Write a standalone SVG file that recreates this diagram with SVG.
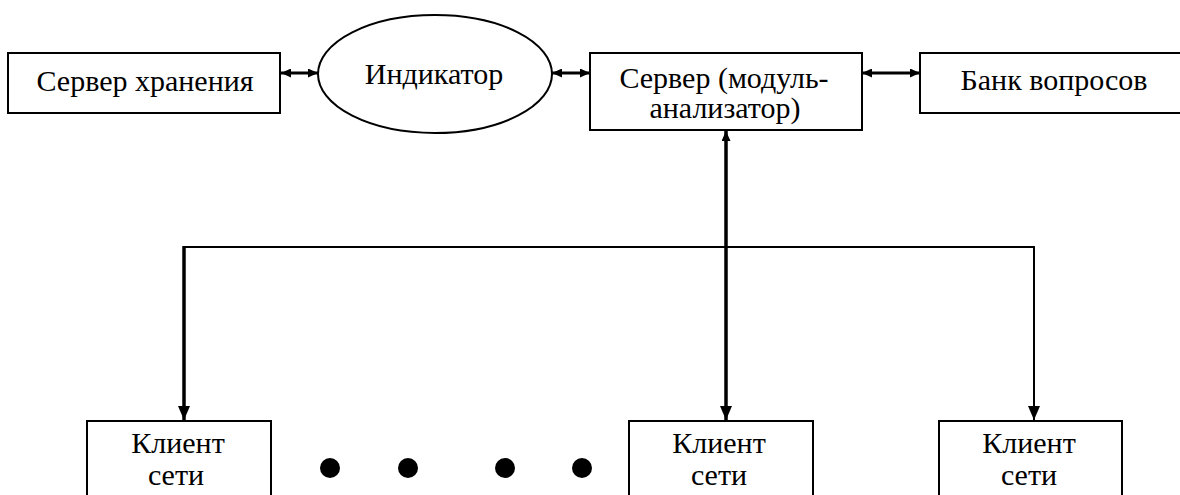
<svg xmlns="http://www.w3.org/2000/svg" width="1180" height="495" viewBox="0 0 1180 495">
  <style>
    .box { fill: #ffffff; stroke: #000000; stroke-width: 2; }
    .lbl { font-family: "Liberation Serif", "Times New Roman", serif; font-size: 30px; fill: #000000; text-anchor: middle; }
    .wire { fill: none; stroke: #000000; }
    .dot { fill: #000000; }
  </style>
  <defs>
    <marker id="headSmall" viewBox="0 0 10 10" refX="10" refY="5" markerUnits="userSpaceOnUse" markerWidth="10" markerHeight="9" orient="auto-start-reverse" preserveAspectRatio="none">
      <path d="M0,0 L10,5 L0,10 z" fill="#000000"/>
    </marker>
    <marker id="headBig" viewBox="0 0 10 10" refX="10" refY="5" markerUnits="userSpaceOnUse" markerWidth="14" markerHeight="12" orient="auto-start-reverse" preserveAspectRatio="none">
      <path d="M0,0 L10,5 L0,10 z" fill="#000000"/>
    </marker>
  </defs>

  <rect width="1180" height="495" fill="#ffffff"/>

  <!-- connectors -->
  <g id="connectors">
    <line class="wire" x1="281" y1="73" x2="318" y2="73" stroke-width="3" marker-start="url(#headSmall)" marker-end="url(#headSmall)"/>
    <line class="wire" x1="552" y1="73" x2="590" y2="73" stroke-width="3" marker-start="url(#headSmall)" marker-end="url(#headSmall)"/>
    <line class="wire" x1="862" y1="73" x2="920" y2="73" stroke-width="3" marker-start="url(#headSmall)" marker-end="url(#headSmall)"/>
    <!-- trunk between the server and the middle client -->
    <line class="wire" x1="726" y1="131" x2="726" y2="420" stroke-width="3.5" marker-start="url(#headSmall)" marker-end="url(#headBig)"/>
    <!-- distribution bus -->
    <line class="wire" x1="183" y1="247" x2="1035" y2="247" stroke-width="2"/>
    <line class="wire" x1="184" y1="246" x2="184" y2="420" stroke-width="3.5" marker-end="url(#headBig)"/>
    <line class="wire" x1="1034" y1="246" x2="1034" y2="420" stroke-width="2" marker-end="url(#headBig)"/>
  </g>

  <g id="storage-server">
    <rect class="box" x="8" y="53" width="272" height="60"/>
    <text class="lbl" x="145" y="91">Сервер хранения</text>
  </g>

  <g id="indicator">
    <ellipse cx="435" cy="74" rx="117" ry="59" fill="#ffffff" stroke="#000000" stroke-width="2"/>
    <text class="lbl" x="434" y="84">Индикатор</text>
  </g>

  <g id="analyzer-server">
    <rect class="box" x="590" y="53" width="272" height="77"/>
    <text class="lbl" x="724" y="88">Сервер (модуль-</text>
    <text class="lbl" x="725" y="118">анализатор)</text>
  </g>

  <g id="question-bank">
    <rect class="box" x="920" y="53" width="270" height="60"/>
    <text class="lbl" x="1054" y="90">Банк вопросов</text>
  </g>

  <g id="client-1">
    <rect class="box" x="87" y="421" width="184" height="90"/>
    <text class="lbl" x="178" y="453">Клиент</text>
    <text class="lbl" x="176" y="485">сети</text>
  </g>

  <g id="client-2">
    <rect class="box" x="629" y="421" width="184" height="90"/>
    <text class="lbl" x="719" y="453">Клиент</text>
    <text class="lbl" x="719" y="485">сети</text>
  </g>

  <g id="client-3">
    <rect class="box" x="939" y="421" width="183" height="90"/>
    <text class="lbl" x="1029" y="453">Клиент</text>
    <text class="lbl" x="1029" y="485">сети</text>
  </g>

  <!-- ellipsis between the clients -->
  <g id="ellipsis">
    <circle class="dot" cx="330" cy="468" r="10"/>
    <circle class="dot" cx="408" cy="468" r="10"/>
    <circle class="dot" cx="505" cy="468" r="10"/>
    <circle class="dot" cx="582" cy="468" r="10"/>
  </g>
</svg>
